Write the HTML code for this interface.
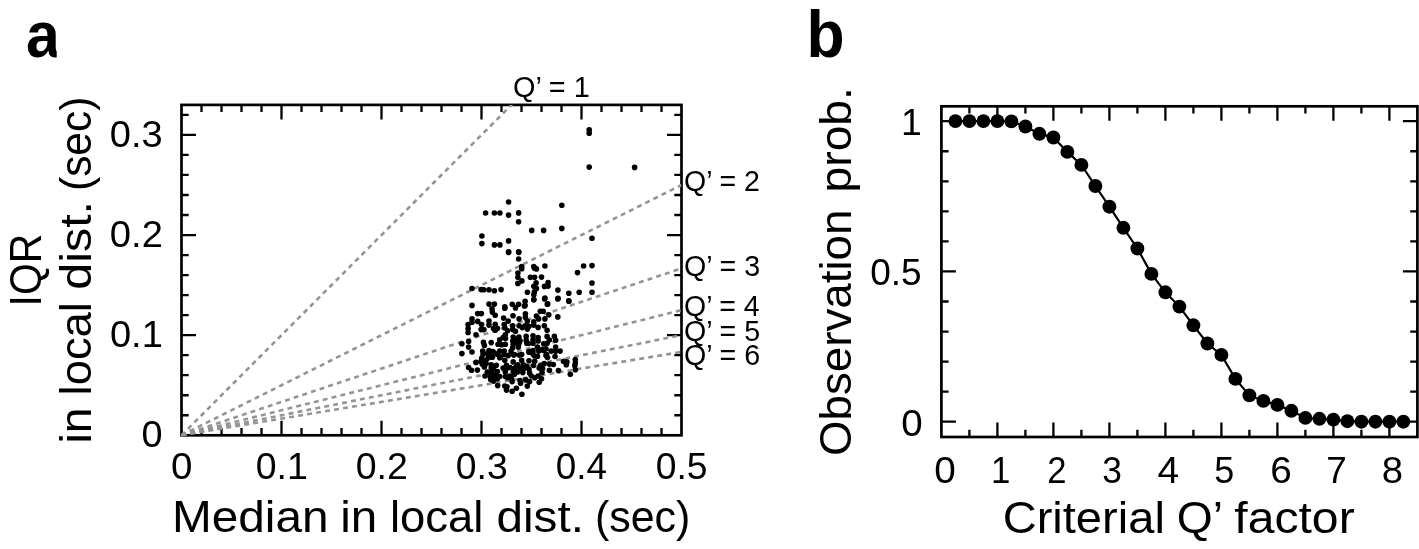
<!DOCTYPE html>
<html><head><meta charset="utf-8"><title>figure</title>
<style>html,body{margin:0;padding:0;background:#fff;}svg{display:block;will-change:transform;filter:grayscale(1);}text{font-family:"Liberation Sans",sans-serif;fill:#000;}</style>
</head><body>
<svg width="1419" height="549" viewBox="0 0 1419 549">
<rect width="1419" height="549" fill="#fff"/>
<path d="M201.50 435.3v-7.2M201.50 104.9v7.2M221.50 435.3v-7.2M221.50 104.9v7.2M241.50 435.3v-7.2M241.50 104.9v7.2M261.50 435.3v-7.2M261.50 104.9v7.2M281.50 435.3v-14.5M281.50 104.9v14.5M301.50 435.3v-7.2M301.50 104.9v7.2M321.50 435.3v-7.2M321.50 104.9v7.2M341.50 435.3v-7.2M341.50 104.9v7.2M361.50 435.3v-7.2M361.50 104.9v7.2M381.50 435.3v-14.5M381.50 104.9v14.5M401.50 435.3v-7.2M401.50 104.9v7.2M421.50 435.3v-7.2M421.50 104.9v7.2M441.50 435.3v-7.2M441.50 104.9v7.2M461.50 435.3v-7.2M461.50 104.9v7.2M481.50 435.3v-14.5M481.50 104.9v14.5M501.50 435.3v-7.2M501.50 104.9v7.2M521.50 435.3v-7.2M521.50 104.9v7.2M541.50 435.3v-7.2M541.50 104.9v7.2M561.50 435.3v-7.2M561.50 104.9v7.2M581.50 435.3v-14.5M581.50 104.9v14.5M601.50 435.3v-7.2M601.50 104.9v7.2M621.50 435.3v-7.2M621.50 104.9v7.2M641.50 435.3v-7.2M641.50 104.9v7.2M661.50 435.3v-7.2M661.50 104.9v7.2M181.5 415.27h7.2M681.5 415.27h-7.2M181.5 395.25h7.2M681.5 395.25h-7.2M181.5 375.22h7.2M681.5 375.22h-7.2M181.5 355.20h7.2M681.5 355.20h-7.2M181.5 335.17h14.5M681.5 335.17h-14.5M181.5 315.14h7.2M681.5 315.14h-7.2M181.5 295.12h7.2M681.5 295.12h-7.2M181.5 275.09h7.2M681.5 275.09h-7.2M181.5 255.07h7.2M681.5 255.07h-7.2M181.5 235.04h14.5M681.5 235.04h-14.5M181.5 215.01h7.2M681.5 215.01h-7.2M181.5 194.99h7.2M681.5 194.99h-7.2M181.5 174.96h7.2M681.5 174.96h-7.2M181.5 154.94h7.2M681.5 154.94h-7.2M181.5 134.91h14.5M681.5 134.91h-14.5M181.5 114.88h7.2M681.5 114.88h-7.2" stroke="#000" stroke-width="2.3" fill="none"/>
<rect x="181.5" y="104.9" width="500.0" height="330.4" fill="none" stroke="#000" stroke-width="2.7"/>
<clipPath id="ca"><rect x="180.5" y="104.9" width="501.0" height="331.29999999999995"/></clipPath>
<g clip-path="url(#ca)" stroke="#949494" stroke-width="2.6" stroke-dasharray="4.9 4.2" fill="none">
<path d="M181.5 435.3L681.5 -65.35"/>
<path d="M181.5 435.3L681.5 184.98"/>
<path d="M181.5 435.3L681.5 268.42"/>
<path d="M181.5 435.3L681.5 310.14"/>
<path d="M181.5 435.3L681.5 335.17"/>
<path d="M181.5 435.3L681.5 351.86"/>
</g>
<g fill="#000">
<circle cx="589.2" cy="129.9" r="2.8"/>
<circle cx="589.2" cy="133.3" r="2.8"/>
<circle cx="589.2" cy="167.1" r="2.8"/>
<circle cx="634.6" cy="167.4" r="2.8"/>
<circle cx="508.6" cy="202.0" r="2.8"/>
<circle cx="561.8" cy="205.2" r="2.8"/>
<circle cx="485.6" cy="213.0" r="2.8"/>
<circle cx="494.4" cy="213.0" r="2.8"/>
<circle cx="499.9" cy="213.0" r="2.8"/>
<circle cx="508.6" cy="215.1" r="2.8"/>
<circle cx="518.6" cy="212.9" r="2.8"/>
<circle cx="518.6" cy="221.8" r="2.8"/>
<circle cx="531.7" cy="230.4" r="2.8"/>
<circle cx="543.6" cy="230.4" r="2.8"/>
<circle cx="561.8" cy="228.4" r="2.8"/>
<circle cx="592.0" cy="238.2" r="2.8"/>
<circle cx="481.9" cy="236.0" r="2.8"/>
<circle cx="481.9" cy="243.6" r="2.8"/>
<circle cx="494.4" cy="244.9" r="2.8"/>
<circle cx="499.9" cy="244.9" r="2.8"/>
<circle cx="508.6" cy="240.9" r="2.8"/>
<circle cx="508.6" cy="251.8" r="2.8"/>
<circle cx="518.6" cy="251.8" r="2.8"/>
<circle cx="508.6" cy="252.5" r="2.8"/>
<circle cx="518.8" cy="252.5" r="2.8"/>
<circle cx="518.6" cy="259.0" r="2.8"/>
<circle cx="521.7" cy="266.5" r="2.8"/>
<circle cx="521.7" cy="268.7" r="2.8"/>
<circle cx="533.8" cy="266.5" r="2.8"/>
<circle cx="534.4" cy="268.1" r="2.8"/>
<circle cx="536.4" cy="268.9" r="2.8"/>
<circle cx="544.9" cy="266.0" r="2.8"/>
<circle cx="583.6" cy="266.0" r="2.8"/>
<circle cx="592.0" cy="265.6" r="2.8"/>
<circle cx="577.5" cy="272.6" r="2.8"/>
<circle cx="517.9" cy="273.0" r="2.8"/>
<circle cx="517.9" cy="277.2" r="2.8"/>
<circle cx="530.4" cy="277.2" r="2.8"/>
<circle cx="534.6" cy="277.2" r="2.8"/>
<circle cx="541.5" cy="277.1" r="2.8"/>
<circle cx="521.9" cy="280.9" r="2.8"/>
<circle cx="517.9" cy="283.4" r="2.8"/>
<circle cx="536.1" cy="282.9" r="2.8"/>
<circle cx="548.1" cy="282.6" r="2.8"/>
<circle cx="592.0" cy="283.1" r="2.8"/>
<circle cx="533.8" cy="286.3" r="2.8"/>
<circle cx="536.4" cy="288.4" r="2.8"/>
<circle cx="544.5" cy="286.4" r="2.8"/>
<circle cx="548.1" cy="286.1" r="2.8"/>
<circle cx="472.0" cy="288.5" r="2.8"/>
<circle cx="481.1" cy="289.6" r="2.8"/>
<circle cx="483.8" cy="289.7" r="2.8"/>
<circle cx="489.0" cy="289.7" r="2.8"/>
<circle cx="494.4" cy="290.8" r="2.8"/>
<circle cx="501.1" cy="289.6" r="2.8"/>
<circle cx="557.9" cy="290.1" r="2.8"/>
<circle cx="527.4" cy="292.2" r="2.8"/>
<circle cx="534.4" cy="291.9" r="2.8"/>
<circle cx="533.8" cy="294.7" r="2.8"/>
<circle cx="568.8" cy="293.3" r="2.8"/>
<circle cx="579.2" cy="292.2" r="2.8"/>
<circle cx="592.0" cy="292.2" r="2.8"/>
<circle cx="533.8" cy="299.7" r="2.8"/>
<circle cx="544.9" cy="298.1" r="2.8"/>
<circle cx="558.1" cy="298.3" r="2.8"/>
<circle cx="568.8" cy="300.9" r="2.8"/>
<circle cx="525.1" cy="301.2" r="2.8"/>
<circle cx="547.7" cy="303.9" r="2.8"/>
<circle cx="472.0" cy="305.4" r="2.8"/>
<circle cx="489.0" cy="304.1" r="2.8"/>
<circle cx="494.4" cy="304.1" r="2.8"/>
<circle cx="512.3" cy="304.3" r="2.8"/>
<circle cx="518.6" cy="304.3" r="2.8"/>
<circle cx="504.8" cy="306.8" r="2.8"/>
<circle cx="525.1" cy="305.4" r="2.8"/>
<circle cx="533.8" cy="299.6" r="2.8"/>
<circle cx="544.6" cy="298.9" r="2.8"/>
<circle cx="557.8" cy="298.9" r="2.8"/>
<circle cx="568.9" cy="301.2" r="2.8"/>
<circle cx="547.3" cy="304.2" r="2.8"/>
<circle cx="515.5" cy="307.9" r="2.8"/>
<circle cx="524.5" cy="305.9" r="2.8"/>
<circle cx="504.8" cy="308.2" r="2.8"/>
<circle cx="492.0" cy="308.7" r="2.8"/>
<circle cx="492.3" cy="312.1" r="2.8"/>
<circle cx="495.2" cy="315.2" r="2.8"/>
<circle cx="477.7" cy="313.6" r="2.8"/>
<circle cx="481.4" cy="313.6" r="2.8"/>
<circle cx="540.3" cy="311.3" r="2.8"/>
<circle cx="543.2" cy="311.3" r="2.8"/>
<circle cx="525.4" cy="313.8" r="2.8"/>
<circle cx="548.8" cy="314.7" r="2.8"/>
<circle cx="557.8" cy="316.9" r="2.8"/>
<circle cx="513.0" cy="315.7" r="2.8"/>
<circle cx="536.4" cy="316.1" r="2.8"/>
<circle cx="503.6" cy="318.1" r="2.8"/>
<circle cx="472.0" cy="318.9" r="2.8"/>
<circle cx="519.1" cy="318.9" r="2.8"/>
<circle cx="525.4" cy="317.4" r="2.8"/>
<circle cx="538.6" cy="318.9" r="2.8"/>
<circle cx="544.9" cy="318.9" r="2.8"/>
<circle cx="477.7" cy="321.4" r="2.8"/>
<circle cx="489.0" cy="321.1" r="2.8"/>
<circle cx="508.2" cy="321.1" r="2.8"/>
<circle cx="527.3" cy="321.1" r="2.8"/>
<circle cx="533.8" cy="321.7" r="2.8"/>
<circle cx="472.0" cy="322.3" r="2.8"/>
<circle cx="468.1" cy="324.5" r="2.8"/>
<circle cx="481.6" cy="324.5" r="2.8"/>
<circle cx="489.0" cy="325.1" r="2.8"/>
<circle cx="495.2" cy="324.2" r="2.8"/>
<circle cx="504.2" cy="324.5" r="2.8"/>
<circle cx="512.7" cy="325.7" r="2.8"/>
<circle cx="519.1" cy="325.7" r="2.8"/>
<circle cx="522.3" cy="327.6" r="2.8"/>
<circle cx="525.1" cy="325.7" r="2.8"/>
<circle cx="529.0" cy="326.2" r="2.8"/>
<circle cx="533.8" cy="325.1" r="2.8"/>
<circle cx="538.1" cy="327.4" r="2.8"/>
<circle cx="544.3" cy="325.7" r="2.8"/>
<circle cx="547.1" cy="330.2" r="2.8"/>
<circle cx="468.1" cy="328.5" r="2.8"/>
<circle cx="468.1" cy="332.4" r="2.8"/>
<circle cx="481.1" cy="329.6" r="2.8"/>
<circle cx="483.9" cy="329.6" r="2.8"/>
<circle cx="493.5" cy="328.5" r="2.8"/>
<circle cx="497.4" cy="328.3" r="2.8"/>
<circle cx="495.2" cy="330.2" r="2.8"/>
<circle cx="504.8" cy="327.9" r="2.8"/>
<circle cx="507.6" cy="330.7" r="2.8"/>
<circle cx="512.7" cy="329.6" r="2.8"/>
<circle cx="515.5" cy="331.3" r="2.8"/>
<circle cx="527.3" cy="329.1" r="2.8"/>
<circle cx="476.0" cy="334.7" r="2.8"/>
<circle cx="505.3" cy="334.7" r="2.8"/>
<circle cx="503.1" cy="337.5" r="2.8"/>
<circle cx="499.7" cy="339.8" r="2.8"/>
<circle cx="513.2" cy="337.0" r="2.8"/>
<circle cx="518.9" cy="337.0" r="2.8"/>
<circle cx="515.5" cy="339.8" r="2.8"/>
<circle cx="526.2" cy="336.4" r="2.8"/>
<circle cx="533.0" cy="335.8" r="2.8"/>
<circle cx="538.1" cy="337.5" r="2.8"/>
<circle cx="547.1" cy="336.4" r="2.8"/>
<circle cx="554.4" cy="336.4" r="2.8"/>
<circle cx="549.4" cy="340.0" r="2.8"/>
<circle cx="555.6" cy="340.3" r="2.8"/>
<circle cx="533.0" cy="339.8" r="2.8"/>
<circle cx="538.1" cy="340.9" r="2.8"/>
<circle cx="526.2" cy="340.3" r="2.8"/>
<circle cx="520.0" cy="340.9" r="2.8"/>
<circle cx="468.6" cy="341.5" r="2.8"/>
<circle cx="461.9" cy="343.7" r="2.8"/>
<circle cx="483.5" cy="342.4" r="2.8"/>
<circle cx="491.2" cy="342.6" r="2.8"/>
<circle cx="498.0" cy="344.3" r="2.8"/>
<circle cx="505.3" cy="344.3" r="2.8"/>
<circle cx="484.4" cy="345.4" r="2.8"/>
<circle cx="468.6" cy="347.1" r="2.8"/>
<circle cx="513.2" cy="344.3" r="2.8"/>
<circle cx="518.9" cy="343.7" r="2.8"/>
<circle cx="526.8" cy="343.2" r="2.8"/>
<circle cx="533.0" cy="343.2" r="2.8"/>
<circle cx="543.7" cy="343.7" r="2.8"/>
<circle cx="547.1" cy="343.2" r="2.8"/>
<circle cx="518.3" cy="347.1" r="2.8"/>
<circle cx="512.7" cy="347.7" r="2.8"/>
<circle cx="537.5" cy="347.1" r="2.8"/>
<circle cx="555.6" cy="347.1" r="2.8"/>
<circle cx="542.6" cy="349.4" r="2.8"/>
<circle cx="546.0" cy="348.8" r="2.8"/>
<circle cx="461.9" cy="353.6" r="2.8"/>
<circle cx="472.0" cy="352.0" r="2.8"/>
<circle cx="482.7" cy="351.1" r="2.8"/>
<circle cx="489.0" cy="350.5" r="2.8"/>
<circle cx="492.9" cy="351.6" r="2.8"/>
<circle cx="499.7" cy="351.1" r="2.8"/>
<circle cx="504.2" cy="351.1" r="2.8"/>
<circle cx="511.0" cy="351.1" r="2.8"/>
<circle cx="529.0" cy="351.6" r="2.8"/>
<circle cx="533.0" cy="350.5" r="2.8"/>
<circle cx="538.6" cy="351.1" r="2.8"/>
<circle cx="551.1" cy="351.1" r="2.8"/>
<circle cx="555.6" cy="351.3" r="2.8"/>
<circle cx="560.1" cy="351.1" r="2.8"/>
<circle cx="489.0" cy="354.5" r="2.8"/>
<circle cx="497.4" cy="354.5" r="2.8"/>
<circle cx="504.2" cy="354.5" r="2.8"/>
<circle cx="508.2" cy="355.6" r="2.8"/>
<circle cx="514.4" cy="354.5" r="2.8"/>
<circle cx="521.7" cy="354.5" r="2.8"/>
<circle cx="533.0" cy="353.9" r="2.8"/>
<circle cx="537.5" cy="356.2" r="2.8"/>
<circle cx="546.0" cy="355.6" r="2.8"/>
<circle cx="555.0" cy="356.5" r="2.8"/>
<circle cx="481.6" cy="358.4" r="2.8"/>
<circle cx="488.4" cy="357.8" r="2.8"/>
<circle cx="499.7" cy="357.8" r="2.8"/>
<circle cx="575.3" cy="359.5" r="2.8"/>
<circle cx="513.8" cy="355.1" r="2.8"/>
<circle cx="519.4" cy="355.1" r="2.8"/>
<circle cx="529.0" cy="352.3" r="2.8"/>
<circle cx="492.3" cy="357.3" r="2.8"/>
<circle cx="504.8" cy="360.2" r="2.8"/>
<circle cx="476.0" cy="362.4" r="2.8"/>
<circle cx="482.2" cy="364.1" r="2.8"/>
<circle cx="486.1" cy="363.6" r="2.8"/>
<circle cx="491.2" cy="364.7" r="2.8"/>
<circle cx="496.3" cy="365.2" r="2.8"/>
<circle cx="506.5" cy="365.2" r="2.8"/>
<circle cx="513.2" cy="361.9" r="2.8"/>
<circle cx="521.7" cy="360.2" r="2.8"/>
<circle cx="517.8" cy="364.7" r="2.8"/>
<circle cx="523.4" cy="364.7" r="2.8"/>
<circle cx="529.0" cy="360.7" r="2.8"/>
<circle cx="534.7" cy="361.3" r="2.8"/>
<circle cx="544.3" cy="363.6" r="2.8"/>
<circle cx="540.3" cy="365.8" r="2.8"/>
<circle cx="549.4" cy="364.1" r="2.8"/>
<circle cx="553.3" cy="364.5" r="2.8"/>
<circle cx="563.5" cy="361.3" r="2.8"/>
<circle cx="566.9" cy="361.9" r="2.8"/>
<circle cx="566.3" cy="364.7" r="2.8"/>
<circle cx="575.3" cy="363.0" r="2.8"/>
<circle cx="574.8" cy="365.8" r="2.8"/>
<circle cx="575.3" cy="369.8" r="2.8"/>
<circle cx="570.3" cy="374.3" r="2.8"/>
<circle cx="468.6" cy="367.5" r="2.8"/>
<circle cx="471.5" cy="370.3" r="2.8"/>
<circle cx="477.4" cy="370.1" r="2.8"/>
<circle cx="484.4" cy="366.9" r="2.8"/>
<circle cx="491.2" cy="368.1" r="2.8"/>
<circle cx="503.1" cy="368.1" r="2.8"/>
<circle cx="506.5" cy="368.6" r="2.8"/>
<circle cx="514.9" cy="368.1" r="2.8"/>
<circle cx="520.0" cy="368.1" r="2.8"/>
<circle cx="524.5" cy="368.1" r="2.8"/>
<circle cx="529.0" cy="369.2" r="2.8"/>
<circle cx="539.2" cy="368.1" r="2.8"/>
<circle cx="542.6" cy="368.6" r="2.8"/>
<circle cx="549.4" cy="370.3" r="2.8"/>
<circle cx="558.4" cy="370.6" r="2.8"/>
<circle cx="487.3" cy="372.0" r="2.8"/>
<circle cx="491.8" cy="372.6" r="2.8"/>
<circle cx="497.4" cy="371.5" r="2.8"/>
<circle cx="505.3" cy="372.0" r="2.8"/>
<circle cx="513.2" cy="371.5" r="2.8"/>
<circle cx="517.8" cy="372.0" r="2.8"/>
<circle cx="522.8" cy="372.6" r="2.8"/>
<circle cx="529.6" cy="373.1" r="2.8"/>
<circle cx="542.0" cy="372.6" r="2.8"/>
<circle cx="485.0" cy="376.0" r="2.8"/>
<circle cx="490.1" cy="376.5" r="2.8"/>
<circle cx="495.2" cy="375.4" r="2.8"/>
<circle cx="499.7" cy="376.5" r="2.8"/>
<circle cx="505.3" cy="376.5" r="2.8"/>
<circle cx="509.8" cy="376.0" r="2.8"/>
<circle cx="514.4" cy="374.3" r="2.8"/>
<circle cx="531.3" cy="376.0" r="2.8"/>
<circle cx="534.7" cy="377.7" r="2.8"/>
<circle cx="538.1" cy="376.0" r="2.8"/>
<circle cx="541.5" cy="378.8" r="2.8"/>
<circle cx="490.7" cy="379.4" r="2.8"/>
<circle cx="493.5" cy="381.1" r="2.8"/>
<circle cx="497.4" cy="378.8" r="2.8"/>
<circle cx="507.6" cy="377.7" r="2.8"/>
<circle cx="511.5" cy="378.8" r="2.8"/>
<circle cx="512.1" cy="381.6" r="2.8"/>
<circle cx="520.0" cy="380.5" r="2.8"/>
<circle cx="520.6" cy="383.3" r="2.8"/>
<circle cx="525.7" cy="379.9" r="2.8"/>
<circle cx="529.6" cy="381.6" r="2.8"/>
<circle cx="539.2" cy="382.2" r="2.8"/>
<circle cx="497.7" cy="385.6" r="2.8"/>
<circle cx="504.8" cy="386.1" r="2.8"/>
<circle cx="507.0" cy="386.7" r="2.8"/>
<circle cx="506.5" cy="390.1" r="2.8"/>
<circle cx="512.1" cy="391.2" r="2.8"/>
<circle cx="516.4" cy="388.2" r="2.8"/>
<circle cx="527.3" cy="386.1" r="2.8"/>
<circle cx="521.9" cy="394.3" r="2.8"/>
<circle cx="501.6" cy="344.7" r="2.8"/>
<circle cx="505.5" cy="338.5" r="2.8"/>
<circle cx="516.5" cy="342.0" r="2.8"/>
<circle cx="512.8" cy="341.0" r="2.8"/>
<circle cx="528.5" cy="343.5" r="2.8"/>
<circle cx="543.5" cy="350.5" r="2.8"/>
<circle cx="546.5" cy="354.5" r="2.8"/>
<circle cx="547.5" cy="357.5" r="2.8"/>
<circle cx="534.5" cy="356.0" r="2.8"/>
<circle cx="487.5" cy="353.5" r="2.8"/>
<circle cx="494.5" cy="353.0" r="2.8"/>
<circle cx="500.5" cy="357.0" r="2.8"/>
<circle cx="493.5" cy="368.5" r="2.8"/>
<circle cx="493.0" cy="377.0" r="2.8"/>
<circle cx="483.0" cy="354.5" r="2.8"/>
<circle cx="481.0" cy="361.5" r="2.8"/>
<circle cx="486.0" cy="360.0" r="2.8"/>
<circle cx="516.6" cy="366.5" r="2.8"/>
<circle cx="510.0" cy="367.5" r="2.8"/>
<circle cx="526.8" cy="366.2" r="2.8"/>
<circle cx="533.6" cy="365.5" r="2.8"/>
</g>
<path d="M969.40 437.0v-7.2M969.40 106.3v7.2M997.40 437.0v-14.5M997.40 106.3v14.5M1025.40 437.0v-7.2M1025.40 106.3v7.2M1053.40 437.0v-14.5M1053.40 106.3v14.5M1081.40 437.0v-7.2M1081.40 106.3v7.2M1109.40 437.0v-14.5M1109.40 106.3v14.5M1137.40 437.0v-7.2M1137.40 106.3v7.2M1165.40 437.0v-14.5M1165.40 106.3v14.5M1193.40 437.0v-7.2M1193.40 106.3v7.2M1221.40 437.0v-14.5M1221.40 106.3v14.5M1249.40 437.0v-7.2M1249.40 106.3v7.2M1277.40 437.0v-14.5M1277.40 106.3v14.5M1305.40 437.0v-7.2M1305.40 106.3v7.2M1333.40 437.0v-14.5M1333.40 106.3v14.5M1361.40 437.0v-7.2M1361.40 106.3v7.2M1389.40 437.0v-14.5M1389.40 106.3v14.5M941.4 421.70h14.5M1417.4 421.70h-14.5M941.4 391.65h7.2M1417.4 391.65h-7.2M941.4 361.60h7.2M1417.4 361.60h-7.2M941.4 331.55h7.2M1417.4 331.55h-7.2M941.4 301.50h7.2M1417.4 301.50h-7.2M941.4 271.45h14.5M1417.4 271.45h-14.5M941.4 241.40h7.2M1417.4 241.40h-7.2M941.4 211.35h7.2M1417.4 211.35h-7.2M941.4 181.30h7.2M1417.4 181.30h-7.2M941.4 151.25h7.2M1417.4 151.25h-7.2M941.4 121.20h14.5M1417.4 121.20h-14.5" stroke="#000" stroke-width="2.3" fill="none"/>
<rect x="941.4" y="106.3" width="476.0000000000001" height="330.7" fill="none" stroke="#000" stroke-width="2.7"/>
<polyline points="955.4,121.1 969.4,121.1 983.4,121.1 997.4,121.1 1011.4,121.4 1025.4,126.5 1039.4,133.8 1053.4,137.5 1067.4,151.9 1081.4,164.9 1095.4,186.0 1109.4,206.7 1123.4,227.8 1137.4,248.5 1151.4,273.9 1165.4,292.3 1179.4,306.6 1193.4,325.3 1207.4,343.5 1221.4,354.9 1235.4,378.9 1249.4,395.4 1263.4,400.9 1277.4,404.9 1291.4,410.8 1305.4,417.9 1319.4,418.8 1333.4,419.6 1347.4,421.2 1361.4,421.7 1375.4,421.7 1389.4,421.7 1403.4,421.7" fill="none" stroke="#000" stroke-width="2.2"/>
<g fill="#000">
<circle cx="955.4" cy="121.1" r="6.95"/>
<circle cx="969.4" cy="121.1" r="6.95"/>
<circle cx="983.4" cy="121.1" r="6.95"/>
<circle cx="997.4" cy="121.1" r="6.95"/>
<circle cx="1011.4" cy="121.4" r="6.95"/>
<circle cx="1025.4" cy="126.5" r="6.95"/>
<circle cx="1039.4" cy="133.8" r="6.95"/>
<circle cx="1053.4" cy="137.5" r="6.95"/>
<circle cx="1067.4" cy="151.9" r="6.95"/>
<circle cx="1081.4" cy="164.9" r="6.95"/>
<circle cx="1095.4" cy="186.0" r="6.95"/>
<circle cx="1109.4" cy="206.7" r="6.95"/>
<circle cx="1123.4" cy="227.8" r="6.95"/>
<circle cx="1137.4" cy="248.5" r="6.95"/>
<circle cx="1151.4" cy="273.9" r="6.95"/>
<circle cx="1165.4" cy="292.3" r="6.95"/>
<circle cx="1179.4" cy="306.6" r="6.95"/>
<circle cx="1193.4" cy="325.3" r="6.95"/>
<circle cx="1207.4" cy="343.5" r="6.95"/>
<circle cx="1221.4" cy="354.9" r="6.95"/>
<circle cx="1235.4" cy="378.9" r="6.95"/>
<circle cx="1249.4" cy="395.4" r="6.95"/>
<circle cx="1263.4" cy="400.9" r="6.95"/>
<circle cx="1277.4" cy="404.9" r="6.95"/>
<circle cx="1291.4" cy="410.8" r="6.95"/>
<circle cx="1305.4" cy="417.9" r="6.95"/>
<circle cx="1319.4" cy="418.8" r="6.95"/>
<circle cx="1333.4" cy="419.6" r="6.95"/>
<circle cx="1347.4" cy="421.2" r="6.95"/>
<circle cx="1361.4" cy="421.7" r="6.95"/>
<circle cx="1375.4" cy="421.7" r="6.95"/>
<circle cx="1389.4" cy="421.7" r="6.95"/>
<circle cx="1403.4" cy="421.7" r="6.95"/>
</g>
<clipPath id="cla"><rect x="0" y="0" width="56.7" height="80"/></clipPath><g clip-path="url(#cla)"><text id="la" transform="translate(25.90 56.90) scale(0.9427 1)" font-size="64.5" font-weight="bold">a</text></g>
<text id="lb" transform="translate(806.46 57.40) scale(0.9460 1)" font-size="66" font-weight="bold">b</text>
<text id="ay03" transform="translate(109.85 146.90) scale(1.0148 1)" font-size="37.5">0.3</text>
<text id="ay02" transform="translate(109.85 246.90) scale(1.0183 1)" font-size="37.5">0.2</text>
<text id="ay01" transform="translate(109.95 346.90) scale(1.0152 1)" font-size="37.5">0.1</text>
<text id="ay0" transform="translate(141.46 446.90) scale(1.0097 1)" font-size="37.5">0</text>
<text id="ax0" transform="translate(170.93 478.50) scale(1.0265 1)" font-size="37.5">0</text>
<text id="ax01" transform="translate(255.78 478.50) scale(0.9988 1)" font-size="37.5">0.1</text>
<text id="ax02" transform="translate(355.77 478.50) scale(0.9998 1)" font-size="37.5">0.2</text>
<text id="ax03" transform="translate(455.78 478.50) scale(0.9964 1)" font-size="37.5">0.3</text>
<text id="ax04" transform="translate(555.80 478.50) scale(0.9832 1)" font-size="37.5">0.4</text>
<text id="ax05" transform="translate(655.78 478.50) scale(0.9946 1)" font-size="37.5">0.5</text>
<text id="axl0" transform="translate(171.98 531.50) scale(1.0613 1)" font-size="45">Median</text>
<text id="axl1" transform="translate(340.13 531.50) scale(1.0565 1)" font-size="45">in</text>
<text id="axl2" transform="translate(389.96 531.50) scale(1.0096 1)" font-size="45">local</text>
<text id="axl3" transform="translate(496.44 531.50) scale(1.0597 1)" font-size="45">dist.</text>
<text id="axl4" transform="translate(594.96 531.50) scale(0.9542 1)" font-size="45">(sec)</text>
<text id="ayl1" transform="translate(41.20 306.48) rotate(-90) scale(0.9097 1)" font-size="45">IQR</text>
<text id="ayl20" transform="translate(91.00 443.58) rotate(-90) scale(1.0259 1)" font-size="45">in</text>
<text id="ayl21" transform="translate(91.00 395.43) rotate(-90) scale(1.0085 1)" font-size="45">local</text>
<text id="ayl22" transform="translate(91.00 289.69) rotate(-90) scale(1.0753 1)" font-size="45">dist.</text>
<text id="ayl23" transform="translate(91.00 191.01) rotate(-90) scale(0.9437 1)" font-size="45">(sec)</text>
<text id="q1" transform="translate(512.98 97.00) scale(1.0023 1)" font-size="28.8">Q’ = 1</text>
<text id="q2" transform="translate(684.00 191.40) scale(0.9905 1)" font-size="28.8">Q’ = 2</text>
<text id="q3" transform="translate(683.99 276.20) scale(0.9959 1)" font-size="28.8">Q’ = 3</text>
<text id="q4" transform="translate(684.00 315.80) scale(0.9890 1)" font-size="28.8">Q’ = 4</text>
<text id="q5" transform="translate(683.99 341.30) scale(0.9949 1)" font-size="28.8">Q’ = 5</text>
<text id="q6" transform="translate(683.99 364.50) scale(0.9957 1)" font-size="28.8">Q’ = 6</text>
<text id="by1" transform="translate(901.11 134.50) scale(0.9953 1)" font-size="37.5">1</text>
<text id="by05" transform="translate(870.19 285.20) scale(0.9885 1)" font-size="37.5">0.5</text>
<text id="by0" transform="translate(901.33 435.80) scale(1.0265 1)" font-size="37.5">0</text>
<text id="bx0" transform="translate(934.18 482.60) scale(1.0320 1)" font-size="37.5">0</text>
<text id="bx1" transform="translate(991.09 482.60) scale(0.9282 1)" font-size="37.5">1</text>
<text id="bx2" transform="translate(1047.31 482.60) scale(0.9239 1)" font-size="37.5">2</text>
<text id="bx3" transform="translate(1102.36 482.60) scale(0.9426 1)" font-size="37.5">3</text>
<text id="bx4" transform="translate(1157.46 482.60) scale(1.0385 1)" font-size="37.5">4</text>
<text id="bx5" transform="translate(1214.21 482.60) scale(0.9603 1)" font-size="37.5">5</text>
<text id="bx6" transform="translate(1270.29 482.60) scale(1.0319 1)" font-size="37.5">6</text>
<text id="bx7" transform="translate(1326.28 482.60) scale(0.9828 1)" font-size="37.5">7</text>
<text id="bx8" transform="translate(1381.71 482.60) scale(1.0193 1)" font-size="37.5">8</text>
<text id="bxl0" transform="translate(1002.64 533.00) scale(1.0467 1)" font-size="45">Criterial</text>
<text id="bxl1" transform="translate(1176.81 533.00) scale(1.0275 1)" font-size="45">Q’</text>
<text id="bxl2" transform="translate(1234.30 533.00) scale(1.0699 1)" font-size="45">factor</text>
<text id="byl0" transform="translate(851.00 455.96) rotate(-90) scale(1.0156 1)" font-size="45">Observation</text>
<text id="byl1" transform="translate(851.00 192.53) rotate(-90) scale(1.0290 1)" font-size="45">prob.</text>
</svg></body></html>
